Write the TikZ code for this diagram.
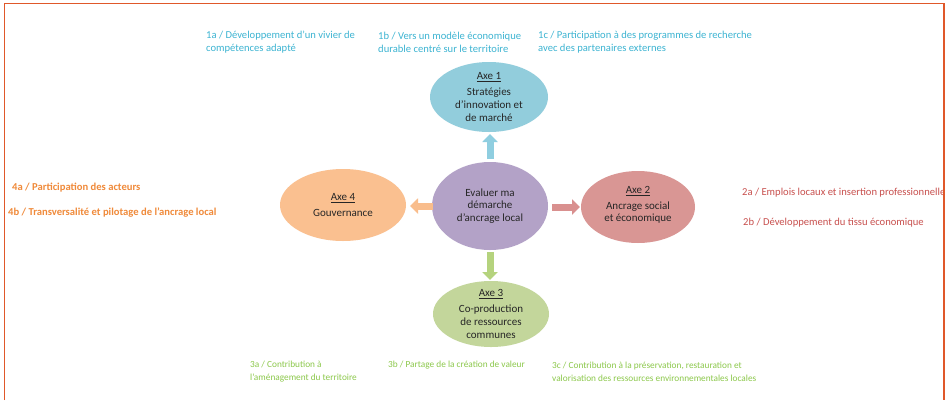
\documentclass[tikz,border=0pt]{standalone}
\usepackage{fontspec}
\setmainfont{Carlito}
\usetikzlibrary{arrows.meta}
\definecolor{frameC}{HTML}{E0582A}
\definecolor{blueF}{HTML}{92CDDC}
\definecolor{purpF}{HTML}{B3A2C7}
\definecolor{orF}{HTML}{FAC090}
\definecolor{redF}{HTML}{D99694}
\definecolor{grF}{HTML}{C3D69B}
\definecolor{blueT}{HTML}{3DB4D2}
\definecolor{orT}{HTML}{F08A3A}
\definecolor{redT}{HTML}{C8504E}
\definecolor{grT}{HTML}{8CC84B}
\definecolor{blueA}{HTML}{8FCEE0}
\definecolor{redA}{HTML}{D9908F}
\definecolor{orA}{HTML}{F9BD8C}
\definecolor{grA}{HTML}{B5D37E}
\tikzset{
  axe/.style={draw=none, align=center, inner sep=0pt, font=\fontsize{11}{12.8}\selectfont, text=black!85},
  lab/.style={anchor=west, align=left, inner sep=0pt, font=\fontsize{10.6}{13}\selectfont},
  labb/.style={lab, font=\fontsize{10.6}{13}\selectfont\bfseries},
  labs/.style={lab, font=\fontsize{9.3}{13}\selectfont},
  blk/.style={line width=7pt, -{Triangle[width=15pt,length=8pt]}}
}
\begin{document}
\begin{tikzpicture}[x=1pt,y=-1pt]
\useasboundingbox (0,0) rectangle (948,400);
\fill[white] (0,0) rectangle (948,400);
% ellipses
\fill[blueF] (489,97) ellipse (59 and 35);
\fill[purpF] (490,206) ellipse (58 and 44);
\fill[orF] (343,205) ellipse (63 and 36);
\fill[redF] (638,207) ellipse (57 and 36);
\fill[grF] (491,314) ellipse (58 and 33);
\node[axe] (a1) at (489,97) {\underline{Axe 1}\\[3pt]Stratégies\\d’innovation et\\de marché};
\node[axe] (c) at (490,206) {Evaluer ma\\démarche\\d’ancrage local};
\node[axe] (a4) at (343,205) {\underline{Axe 4}\\[3pt]Gouvernance};
\node[axe] (a2) at (638,205) {\underline{Axe 2}\\[3pt]Ancrage social\\et économique};
\node[axe] (a3) at (491,314) {\underline{Axe 3}\\[3pt]Co-production\\de ressources\\communes};
\coordinate (cN) at (490,159);
\coordinate (a1S) at (490,134);
\coordinate (cE) at (552,207);
\coordinate (a2W) at (580,207);
\coordinate (cW) at (433,206);
\coordinate (a4E) at (410,206);
\coordinate (cS) at (490,252);
\coordinate (a3N) at (490,280);
\draw[blk, blueA] (cN) -- (a1S);
\draw[blk, redA] (cE) -- (a2W);
\draw[blk, orA] (cW) -- (a4E);
\draw[blk, grA] (cS) -- (a3N);
% labels
\node[lab, text=blueT] (l1a) at (206,42) {1a / Développement d’un vivier de\\compétences adapté};
\node[lab, text=blueT] (l1b) at (378,42) {1b / Vers un modèle économique\\durable centré sur le territoire};
\node[lab, text=blueT] (l1c) at (538,42) {1c / Participation à des programmes de recherche\\avec des partenaires externes};
\node[labb, text=orT] (l4a) at (12,188) {4a / Participation des acteurs};
\node[labb, text=orT] (l4b) at (8,213) {4b / Transversalité et pilotage de l’ancrage local};
\node[lab, text=redT] (l2a) at (742,193) {2a / Emplois locaux et insertion professionnelle};
\node[lab, text=redT] (l2b) at (743,223) {2b / Développement du tissu économique};
\node[labs, text=grT] (l3a) at (250,371.5) {3a / Contribution à\\l’aménagement du territoire};
\node[labs, text=grT] (l3b) at (388,365) {3b / Partage de la création de valeur};
\node[labs, text=grT] (l3c) at (552,371.5) {3c / Contribution à la préservation, restauration et\\valorisation des ressources environnementales locales};
% frame
\fill[white] (945,0) rectangle (948,400);
\draw[frameC, line width=1.6pt] (4.5,400) -- (4.5,3.5) -- (944,3.5) -- (944,400);
\end{tikzpicture}
\end{document}
